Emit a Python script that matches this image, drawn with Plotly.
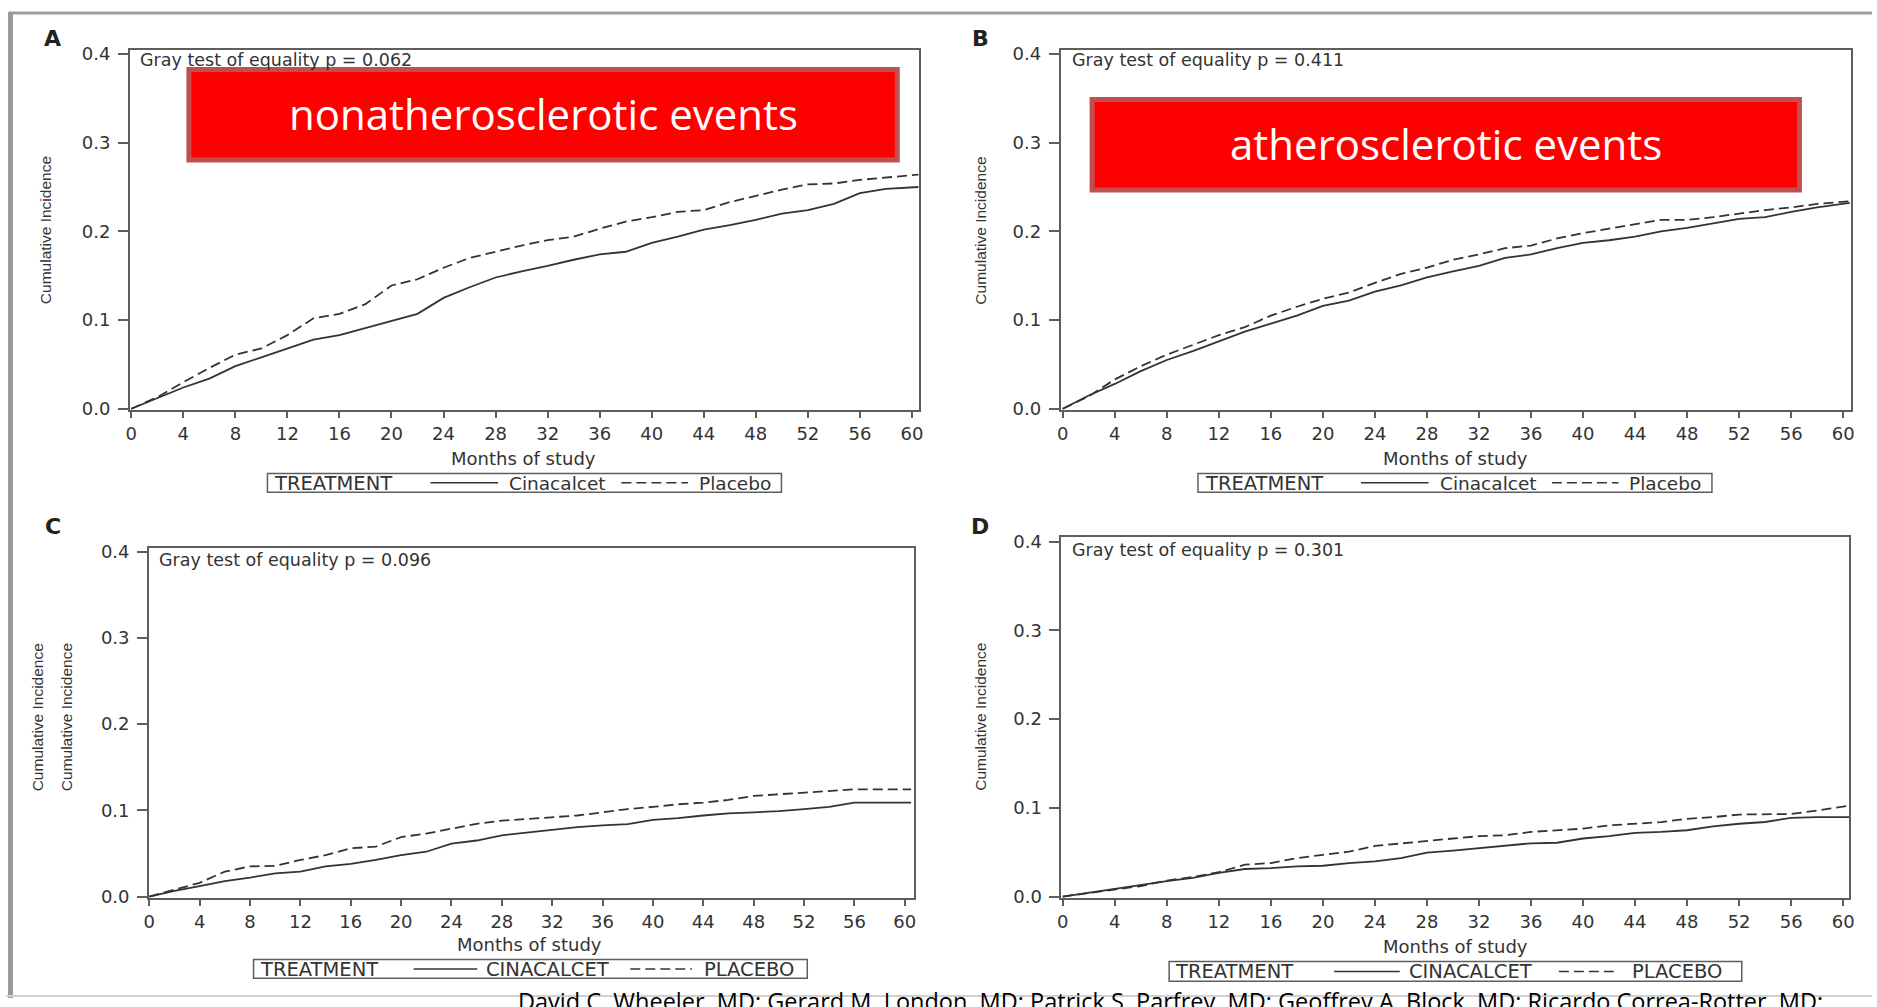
import plotly.graph_objects as go

W, H = 1877, 1007

# ---------------- data ----------------
months = [0, 2, 4, 6, 8, 10, 12, 14, 16, 18, 20, 22, 24, 26, 28, 30,
          32, 34, 36, 38, 40, 42, 44, 46, 48, 50, 52, 54, 56, 58, 60.5]

a_cinacalcet = [0, 0.012, 0.024, 0.034, 0.048, 0.058, 0.068, 0.078, 0.083, 0.091, 0.099,
                0.107, 0.125, 0.137, 0.148, 0.155, 0.161, 0.168, 0.174, 0.177, 0.187,
                0.194, 0.202, 0.207, 0.213, 0.220, 0.224, 0.231, 0.243, 0.248, 0.250]
a_placebo = [0, 0.013, 0.030, 0.046, 0.061, 0.068, 0.083, 0.102, 0.107, 0.118, 0.139,
             0.146, 0.159, 0.170, 0.177, 0.184, 0.190, 0.194, 0.203, 0.211, 0.216,
             0.222, 0.224, 0.233, 0.240, 0.247, 0.253, 0.254, 0.258, 0.261, 0.264]

b_cinacalcet = [0, 0.015, 0.028, 0.0425, 0.055, 0.065, 0.076, 0.087, 0.096, 0.105, 0.116,
                0.122, 0.132, 0.139, 0.148, 0.155, 0.161, 0.170, 0.174, 0.181, 0.187,
                0.190, 0.194, 0.200, 0.204, 0.209, 0.214, 0.216, 0.222, 0.227, 0.232]
b_placebo = [0, 0.014, 0.033, 0.048, 0.061, 0.072, 0.083, 0.092, 0.105, 0.115, 0.124,
             0.131, 0.142, 0.152, 0.159, 0.168, 0.174, 0.181, 0.184, 0.192, 0.198,
             0.203, 0.208, 0.213, 0.213, 0.216, 0.220, 0.224, 0.227, 0.231, 0.234]

c_cinacalcet = [0, 0.0065, 0.012, 0.018, 0.022, 0.027, 0.029, 0.035, 0.038, 0.0425, 0.048,
                0.052, 0.0615, 0.065, 0.071, 0.074, 0.0775, 0.0806, 0.0825, 0.084, 0.089,
                0.091, 0.094, 0.0965, 0.0977, 0.099, 0.1015, 0.104, 0.109, 0.109, 0.109]
c_placebo = [0, 0.0084, 0.016, 0.029, 0.035, 0.0357, 0.0425, 0.048, 0.056, 0.058, 0.069,
             0.073, 0.0787, 0.0844, 0.088, 0.090, 0.092, 0.094, 0.0977, 0.1015, 0.104,
             0.107, 0.109, 0.112, 0.1167, 0.1186, 0.1205, 0.1224, 0.1243, 0.1243, 0.1243]

d_cinacalcet = [0, 0.0044, 0.0089, 0.0126, 0.0174, 0.021, 0.0266, 0.031, 0.032, 0.034, 0.0347,
                0.0377, 0.0396, 0.0433, 0.0495, 0.0518, 0.0543, 0.057, 0.060, 0.0606, 0.0654,
                0.068, 0.0717, 0.0728, 0.0747, 0.079, 0.082, 0.084, 0.0887, 0.0895, 0.0895]
d_placebo = [0, 0.004, 0.0081, 0.0118, 0.018, 0.022, 0.0274, 0.0359, 0.0377, 0.0433, 0.047,
             0.0506, 0.057, 0.060, 0.0628, 0.0654, 0.068, 0.069, 0.0728, 0.0747, 0.0765,
             0.0802, 0.082, 0.0839, 0.0876, 0.0895, 0.0924, 0.0924, 0.093, 0.0969, 0.1024]

panel_letters = ["A", "B", "C", "D"]
p_values = ["0.062", "0.411", "0.096", "0.301"]
legend_names_ab = ["Cinacalcet", "Placebo"]
legend_names_cd = ["CINACALCET", "PLACEBO"]
x_tickvals = list(range(0, 61, 4))
y_tickvals = [0, 0.1, 0.2, 0.3, 0.4]
y_ticktext = ["0.0", "0.1", "0.2", "0.3", "0.4"]
highlight_texts = ["nonatherosclerotic events", "atherosclerotic events"]
authors = ("David C. Wheeler, MD; Gerard M. London, MD; Patrick S. Parfrey, MD; "
           "Geoffrey A. Block, MD; Ricardo Correa-Rotter, MD;")

# ---------------- layout helpers ----------------
def fx(x):
    return x / W

def fy(y):
    return 1 - y / H

WIDE = "DejaVu Sans, Verdana, sans-serif"
ARIAL = "Liberation Sans, Arial, sans-serif"
CAL = "Open Sans, Lato, sans-serif"
LINE_COL = "#333333"
AX_COL = "#5e5e5e"
TXT_COL = "#333333"

# pixel boxes: left, right, top, bottom ; axis ranges
panels = [
    dict(box=(124.7, 918.5, 43.3, 409.7), xr=[-0.1, 60.55], yr=[-0.0016, 0.4049],
         cin=a_cinacalcet, pla=a_placebo),
    dict(box=(1061.0, 1855.5, 43.3, 409.7), xr=[-0.15, 60.57], yr=[-0.0016, 0.4049],
         cin=b_cinacalcet, pla=b_placebo),
    dict(box=(144.0, 913.7, 549.3, 905.7), xr=[-0.01, 60.76], yr=[-0.002, 0.4046],
         cin=c_cinacalcet, pla=c_placebo),
    dict(box=(1061.7, 1854.0, 538.7, 905.7), xr=[-0.1, 60.46], yr=[-0.002, 0.405],
         cin=d_cinacalcet, pla=d_placebo),
]

fig = go.Figure()
layout_axes = {}
for i, p in enumerate(panels):
    sfx = "" if i == 0 else str(i + 1)
    l, r, t, b = p["box"]
    fig.add_trace(go.Scatter(x=months, y=p["cin"], mode="lines", showlegend=False,
                             line=dict(color=LINE_COL, width=1.8),
                             xaxis="x" + sfx, yaxis="y" + sfx, hoverinfo="skip"))
    fig.add_trace(go.Scatter(x=months, y=p["pla"], mode="lines", showlegend=False,
                             line=dict(color=LINE_COL, width=1.8, dash="10px,5px"),
                             xaxis="x" + sfx, yaxis="y" + sfx, hoverinfo="skip"))
    common = dict(showline=True, linecolor=AX_COL, linewidth=2, mirror=True,
                  ticks="outside", tickcolor=AX_COL, tickwidth=1.5,
                  showgrid=False, zeroline=False, fixedrange=True,
                  tickfont=dict(family=WIDE, size=18, color=TXT_COL))
    layout_axes["xaxis" + sfx] = dict(common, domain=[fx(l), fx(r)], range=p["xr"],
                                      anchor="y" + sfx, tickvals=x_tickvals, ticklen=6)
    layout_axes["yaxis" + sfx] = dict(common, domain=[fy(b), fy(t)], range=p["yr"],
                                      anchor="x" + sfx, tickvals=y_tickvals,
                                      ticktext=y_ticktext, ticklen=10,
                                      ticklabelstandoff=4)

annotations = []
shapes = []

def ann(text, x, y, size, family=WIDE, color=TXT_COL, xanchor="center",
        yanchor="middle", angle=0):
    annotations.append(dict(text=text, x=fx(x), y=fy(y), xref="paper", yref="paper",
                            showarrow=False, xanchor=xanchor, yanchor=yanchor,
                            textangle=angle, font=dict(family=family, size=size, color=color)))

# panel letters
for letter, (x, y) in zip(panel_letters, [(47, 32), (980, 32), (47, 528), (980, 528)]):
    ann("<b>%s</b>" % letter, x, y, 22, color="#222222")

# Gray test text
for pv, (x, y) in zip(p_values, [(133, 54), (1070, 54), (152, 562), (1070, 552)]):
    ann("Gray test of equality p = %s" % pv, x, y, 17.5, xanchor="left")

# y titles
ann("Cumulative Incidence", 40, 227, 15.5, family=ARIAL, angle=-90)
ann("Cumulative Incidence", 980, 227, 15.5, family=ARIAL, angle=-90)
ann("Cumulative Incidence", 32, 722, 15.5, family=ARIAL, angle=-90)
ann("Cumulative Incidence", 61, 722, 15.5, family=ARIAL, angle=-90)
ann("Cumulative Incidence", 980, 721, 15.5, family=ARIAL, angle=-90)

# x titles
for (x, y) in [(521, 459), (1458, 459), (527, 953), (1458, 955)]:
    ann("Months of study", x, y, 18)

# legends (manual frames)
legends = [
    dict(box=(263, 780, 474, 493), tre=268, solid=(427, 495), n1=504, dash=(619, 686), n2=695, names=legend_names_ab),
    dict(box=(1199, 1716, 474, 493), tre=1204, solid=(1363, 1431), n1=1440, dash=(1555, 1622), n2=1631, names=legend_names_ab),
    dict(box=(249, 806, 968, 987), tre=253, solid=(410, 474), n1=481, dash=(628, 690), n2=700, names=legend_names_cd),
    dict(box=(1170, 1746, 970, 990), tre=1174, solid=(1336, 1402), n1=1409, dash=(1562, 1621), n2=1634, names=legend_names_cd),
]
for k, lg in enumerate(legends):
    l, r, t, b = lg["box"]
    cy = (t + b) / 2
    shapes.append(dict(type="rect", xref="paper", yref="paper", x0=fx(l), x1=fx(r),
                       y0=fy(b), y1=fy(t), line=dict(color=AX_COL, width=1.5)))
    shapes.append(dict(type="line", xref="paper", yref="paper", x0=fx(lg["solid"][0]),
                       x1=fx(lg["solid"][1]), y0=fy(cy), y1=fy(cy),
                       line=dict(color=LINE_COL, width=1.6)))
    shapes.append(dict(type="line", xref="paper", yref="paper", x0=fx(lg["dash"][0]),
                       x1=fx(lg["dash"][1]), y0=fy(cy), y1=fy(cy),
                       line=dict(color=LINE_COL, width=1.6, dash="10px,5px")))
    name_size = 18.5 if k < 2 else 19.5
    ann("TREATMENT", lg["tre"], cy + 0.5, 19.5, xanchor="left")
    ann(lg["names"][0], lg["n1"], cy + 0.5, name_size, xanchor="left")
    ann(lg["names"][1], lg["n2"], cy + 0.5, name_size, xanchor="left")

# red highlight boxes
for txt, (l, r, t, b) in zip(highlight_texts, [(184, 896.5, 63.5, 155.5), (1092.5, 1804, 94, 186)]):
    shapes.append(dict(type="rect", xref="paper", yref="paper", x0=fx(l), x1=fx(r),
                       y0=fy(b), y1=fy(t), fillcolor="#FF0000",
                       line=dict(color="#C0504D", width=5), layer="above"))
    ann(txt, (l + r) / 2, (t + b) / 2 - 1, 42, family=CAL, color="#FFFFFF")

# slide frame
shapes.append(dict(type="line", xref="paper", yref="paper", x0=fx(3), x1=1, y0=fy(6), y1=fy(6),
                   line=dict(color="#a0a0a0", width=3), layer="above"))
shapes.append(dict(type="line", xref="paper", yref="paper", x0=fx(4.5), x1=fx(4.5), y0=fy(5), y1=0,
                   line=dict(color="#9a9a9a", width=5), layer="above"))
shapes.append(dict(type="line", xref="paper", yref="paper", x0=0, x1=1, y0=fy(1005), y1=fy(1005),
                   line=dict(color="#d0d0d0", width=2), layer="above"))

# author line (cut off at bottom, as in the source slide)
ann(authors, 513, 1010, 23.5, family=CAL, color="#000000", xanchor="left")

fig.update_layout(
    width=W, height=H, margin=dict(l=0, r=0, t=0, b=0, pad=0),
    paper_bgcolor="white", plot_bgcolor="white",
    annotations=annotations, shapes=shapes, showlegend=False,
    **layout_axes,
)

fig.write_html("out.html")
